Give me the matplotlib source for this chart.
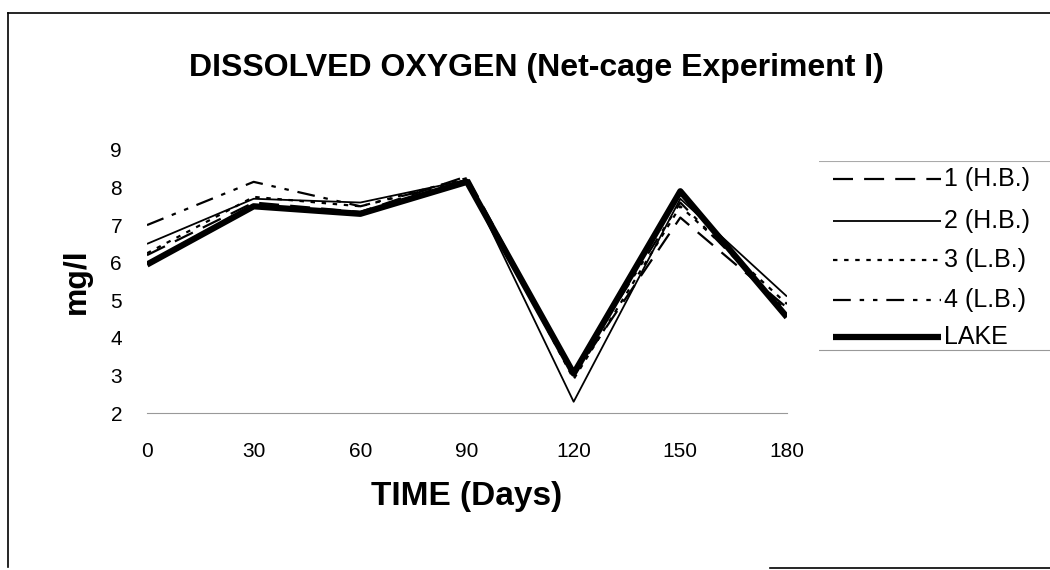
import matplotlib
matplotlib.use('Agg')
import matplotlib.pyplot as plt
from matplotlib.lines import Line2D

plt.rcParams['font.family'] = ['Liberation Sans', 'DejaVu Sans']

# data
days = [0, 30, 60, 90, 120, 150, 180]
hb1 = [6.2, 7.6, 7.35, 8.3, 3.0, 7.2, 4.8]
hb2 = [6.5, 7.7, 7.6, 8.2, 2.3, 7.7, 5.1]
lb3 = [6.25, 7.75, 7.5, 8.25, 2.9, 7.5, 4.9]
lb4 = [7.0, 8.15, 7.5, 8.2, 3.1, 7.6, 4.7]
lake = [5.95, 7.5, 7.3, 8.15, 3.05, 7.9, 4.55]
labels = ['1 (H.B.)', '2 (H.B.)', '3 (L.B.)', '4 (L.B.)', 'LAKE']

fig = plt.figure(figsize=(10.5, 5.7), dpi=100)
ax = fig.add_axes([0.14, 0.2754, 0.6095, 0.4616])

styles = [
    dict(lw=1.6, ls=(0, (9, 5))),
    dict(lw=1.3, ls='-'),
    dict(lw=1.6, ls=(0, (2, 3))),
    dict(lw=1.6, ls=(0, (8, 4, 2, 4, 2, 4))),
    dict(lw=4.5, ls='-'),
]
series = [hb1, hb2, lb3, lb4, lake]
for vals, st in zip(series, styles):
    ax.plot(days, vals, color='black', solid_capstyle='butt', **st)

ax.set_xlim(0, 180)
ax.set_ylim(2, 9)
ax.set_xticks(days)
ax.set_yticks(range(2, 10))
for s in ['top', 'right', 'left']:
    ax.spines[s].set_visible(False)
ax.spines['bottom'].set_color('#999999')
ax.spines['bottom'].set_linewidth(0.8)
ax.tick_params(axis='both', length=0, labelsize=15)
ax.tick_params(axis='y', pad=18)
ax.tick_params(axis='x', pad=21)
ax.set_xlabel('TIME (Days)', fontsize=24, fontweight='bold', labelpad=14)
ax.set_ylabel('mg/l', fontsize=23, fontweight='bold')
ax.yaxis.set_label_coords(-0.086, 0.5)

fig.text(0.511, 0.880, 'DISSOLVED OXYGEN (Net-cage Experiment I)',
         ha='center', va='center', fontsize=23, fontweight='bold')

# legend drawn by hand on the right
lax = fig.add_axes([0.78, 0.378, 0.22, 0.34])
lax.set_xlim(0, 1)
lax.set_ylim(0, 1)
lax.axis('off')
rows = [0.905, 0.69, 0.49, 0.283, 0.09]
for yy, st, lab in zip(rows, styles, labels):
    lax.add_line(Line2D([0.06, 0.53], [yy, yy], color='black', solid_capstyle='butt', **st))
    lax.text(0.54, yy, lab, va='center', ha='left', fontsize=18)
lax.add_line(Line2D([0.0, 1.0], [1.0, 1.0], color='#aaaaaa', lw=0.8))
lax.add_line(Line2D([0.0, 1.0], [0.023, 0.023], color='#999999', lw=0.8))

# outer frame
fig.add_artist(Line2D([8 / 1050, 1.0], [1 - 13 / 570, 1 - 13 / 570], color='black', lw=1.2))
fig.add_artist(Line2D([8 / 1050, 8 / 1050], [1 - 13 / 570, 1 - 567 / 570], color='black', lw=1.2))
fig.add_artist(Line2D([770 / 1050, 1.0], [1 - 568 / 570, 1 - 568 / 570], color='black', lw=1.2))

fig.savefig('out.png', dpi=100)
